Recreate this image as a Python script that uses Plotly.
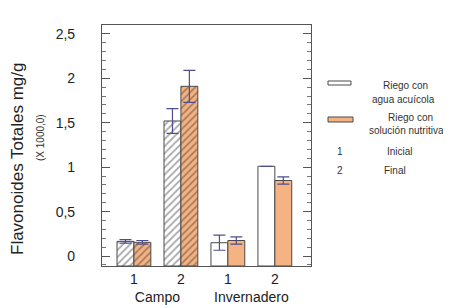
import plotly.graph_objects as go

# ---- data ----
grupos = ["Campo", "Campo", "Invernadero", "Invernadero"]
tiempos = ["1", "2", "1", "2"]
agua = [0.165, 1.52, 0.15, 1.01]
agua_err = [0.02, 0.14, 0.085, 0.0]
nutritiva = [0.155, 1.91, 0.175, 0.85]
nutritiva_err = [0.02, 0.18, 0.04, 0.04]
tramas = ["/", "/", "", ""]
y_ticks = [0, 0.5, 1, 1.5, 2, 2.5]
y_ticktext = ["0", "0,5", "1", "1,5", "2", "2,5"]
Y_MIN, Y_MAX = -0.112, 2.6

# ---- layout geometry (pixels) ----
W, H = 451, 308
L, R, T, B = 94, 303, 17, 258

def px(x):
    return (x - L) / (R - L)

def py(y):
    return (B - y) / (B - T)

FONT = "Liberation Sans, Arial, sans-serif"
ORANGE = "#f5b282"
EDGE = "#4a4a4a"
ERR = "#4d4d8f"

fig = go.Figure()

fig.add_trace(go.Bar(
    x=[grupos, tiempos], y=[v - Y_MIN for v in agua], base=Y_MIN,
    name="Riego con agua acuícola",
    marker=dict(color="white", line=dict(color=EDGE, width=1),
                pattern=dict(shape=tramas, fgcolor="#555555", size=5, solidity=0.35)),
    error_y=dict(type="data", array=agua_err, color=ERR, thickness=1.2, width=6),
    showlegend=False,
))
fig.add_trace(go.Bar(
    x=[grupos, tiempos], y=[v - Y_MIN for v in nutritiva], base=Y_MIN,
    name="Riego con solución nutritiva",
    marker=dict(color=ORANGE, line=dict(color=EDGE, width=1),
                pattern=dict(shape=tramas, fgcolor="#5a4a40", size=5, solidity=0.35)),
    error_y=dict(type="data", array=nutritiva_err, color=ERR, thickness=1.2, width=6),
    showlegend=False,
))

fig.update_layout(
    width=W, height=H,
    margin=dict(l=L, r=W - R, t=T, b=H - B),
    paper_bgcolor="white", plot_bgcolor="white",
    barmode="group", bargap=0.28, bargroupgap=0,
    separators=",.",
    font=dict(family=FONT, color="#333333"),
    showlegend=False,
)
fig.update_xaxes(
    type="multicategory", range=[-0.68, 3.77],
    showline=True, linecolor="#555555", linewidth=1.2, mirror=True,
    showgrid=False, showdividers=False, ticks="",
    tickfont=dict(size=14, color="#222222"),
)
fig.update_yaxes(
    range=[Y_MIN, Y_MAX], tickvals=y_ticks, ticktext=y_ticktext,
    showline=True, linecolor="#555555", linewidth=1.2, mirror="ticks",
    showgrid=False, zeroline=False,
    ticks="inside", ticklen=8, tickcolor="#555555",
    minor=dict(dtick=0.1, ticks="inside", ticklen=4, tickcolor="#777777", showgrid=False),
    tickfont=dict(size=14, color="#222222"), ticklabelstandoff=23,
)

# y-axis title (two lines, different sizes)
fig.add_annotation(text="Flavonoides Totales mg/g", xref="paper", yref="paper",
                   x=px(9), y=py(151), textangle=-90, showarrow=False,
                   xanchor="center", yanchor="middle",
                   font=dict(size=17, color="#222222"))
fig.add_annotation(text="(X 1000,0)", xref="paper", yref="paper",
                   x=px(32), y=py(130), textangle=-90, showarrow=False,
                   xanchor="center", yanchor="middle",
                   font=dict(size=10, color="#333333"))

# custom legend
fig.add_shape(type="rect", xref="paper", yref="paper",
              x0=px(320), x1=px(343), y0=py(77), y1=py(73),
              line=dict(color=EDGE, width=1), fillcolor="white")
fig.add_shape(type="rect", xref="paper", yref="paper",
              x0=px(320), x1=px(345), y0=py(114), y1=py(109),
              line=dict(color=EDGE, width=1), fillcolor=ORANGE)
leg = [
    ("Riego con", 397, 77),
    ("agua acuícola", 395, 91),
    ("Riego con", 402, 109),
    ("solución nutritiva", 398, 122),
    ("1", 332, 143),
    ("Inicial", 392, 143),
    ("2", 332, 162),
    ("Final", 387, 162),
]
for txt, x, y in leg:
    fig.add_annotation(text=txt, xref="paper", yref="paper", x=px(x), y=py(y),
                       showarrow=False, xanchor="center", yanchor="middle",
                       font=dict(size=10, color="#333333"))

fig.write_html("out.html")
